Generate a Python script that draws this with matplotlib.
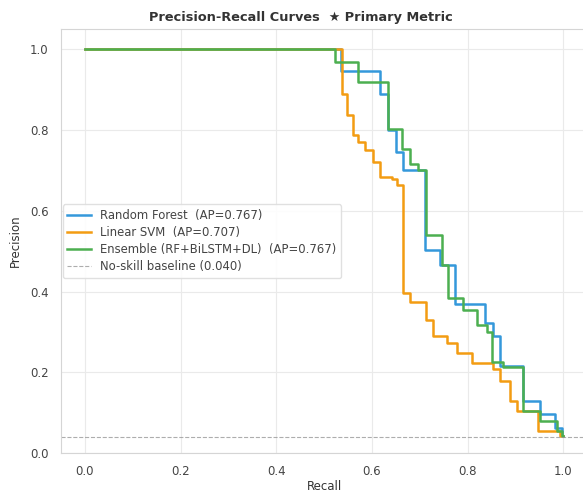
import matplotlib
matplotlib.use("Agg")
import matplotlib.pyplot as plt

# * Data (step points: recall, precision after the step)
rf_recall = [0.0, 0.535, 0.617, 0.634, 0.651, 0.665, 0.711, 0.743, 0.774, 0.837,
             0.854, 0.868, 0.916, 0.952, 0.983, 0.998, 1.0]
rf_precision = [1.0, 0.947, 0.889, 0.80, 0.745, 0.70, 0.504, 0.466, 0.368, 0.321,
                0.289, 0.215, 0.128, 0.096, 0.062, 0.042, 0.042]

svm_recall = [0.0, 0.537, 0.548, 0.561, 0.571, 0.586, 0.603, 0.617, 0.642, 0.653,
              0.665, 0.680, 0.713, 0.728, 0.757, 0.778, 0.810, 0.854, 0.868,
              0.889, 0.904, 0.948, 0.994, 1.0]
svm_precision = [1.0, 0.89, 0.837, 0.788, 0.77, 0.75, 0.72, 0.684, 0.678, 0.665,
                 0.396, 0.375, 0.330, 0.289, 0.272, 0.248, 0.223, 0.207, 0.178,
                 0.128, 0.104, 0.054, 0.042, 0.042]

ens_recall = [0.0, 0.523, 0.571, 0.634, 0.663, 0.680, 0.697, 0.713, 0.746, 0.759,
              0.791, 0.820, 0.841, 0.851, 0.874, 0.916, 0.952, 0.987, 0.998, 1.0]
ens_precision = [1.0, 0.968, 0.920, 0.803, 0.754, 0.717, 0.700, 0.541, 0.466, 0.383,
                 0.355, 0.318, 0.300, 0.225, 0.212, 0.104, 0.08, 0.054, 0.042, 0.042]

labels = ["Random Forest  (AP=0.767)", "Linear SVM  (AP=0.707)",
          "Ensemble (RF+BiLSTM+DL)  (AP=0.767)"]
colors = ["#3498db", "#f39c12", "#4caf50"]
baseline = 0.040
x_ticks = [0.0, 0.2, 0.4, 0.6, 0.8, 1.0]
y_ticks = [0.0, 0.2, 0.4, 0.6, 0.8, 1.0]

fig = plt.figure(figsize=(5.83, 4.94), dpi=100)
ax = fig.add_axes([0.1046, 0.083, 0.9024, 0.858])

curves = [(rf_recall, rf_precision), (svm_recall, svm_precision), (ens_recall, ens_precision)]
for (r, p), lab, col in zip(curves, labels, colors):
    ax.step(r, p, where="post", color=col, lw=1.8, label=lab)

ax.axhline(baseline, color="#999999", lw=0.8, ls="--", alpha=0.8,
           label="No-skill baseline (%.3f)" % baseline)

ax.set_xlim(-0.05, 1.05)
ax.set_ylim(0, 1.05)
ax.set_xticks(x_ticks)
ax.set_yticks(y_ticks)
ax.tick_params(labelsize=8.5, colors="#444444", length=0)
ax.tick_params(axis="x", pad=9)
ax.tick_params(axis="y", pad=9)
ax.grid(True, color="#eaeaea", lw=0.8)
for s in ax.spines.values():
    s.set_color("#d5d5d5")

ax.set_xlabel("Recall", fontsize=8.5, color="#333333", labelpad=1)
ax.set_ylabel("Precision", fontsize=8.5, color="#333333", labelpad=6)
ax.set_title("Precision-Recall Curves  \u2605 Primary Metric", fontsize=9.3,
             fontweight="bold", color="#333333", pad=6, x=0.456)

leg = ax.legend(loc="center left", fontsize=8.4, frameon=True, framealpha=0.9,
                borderaxespad=0.15, labelspacing=0.35)
leg.get_frame().set_edgecolor("#dddddd")
for t in leg.get_texts():
    t.set_color("#444444")

fig.savefig("out.png", dpi=100)
